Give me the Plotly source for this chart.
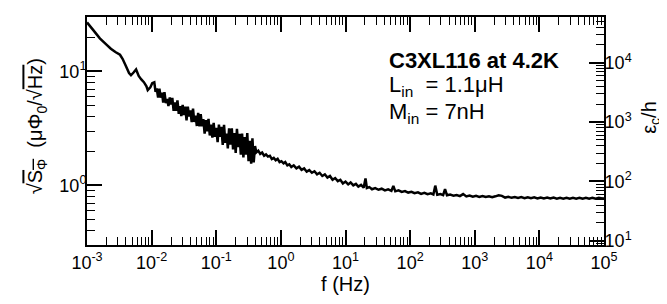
import math
import plotly.graph_objects as go

# ---- data (f in Hz, sqrt(S_phi) in micro-Phi0/sqrt(Hz)) ----
f_low = [0.00100, 0.00126, 0.00158, 0.00200, 0.00234, 0.00275, 0.00324, 0.00355, 0.00398, 0.00447,
         0.00479, 0.00525, 0.00575, 0.00631, 0.00692, 0.00759, 0.00832, 0.00871, 0.00955, 0.0102]
s_low = [26.9, 22.9, 19.5, 17.2, 15.8, 14.8, 14.0, 12.9, 11.2, 9.66,
         9.25, 9.77, 10.4, 9.12, 8.51, 8.04, 7.41, 6.86, 7.24, 7.89]

f_mid = [0.0110, 0.0115, 0.0120, 0.0126, 0.0132, 0.0138, 0.0145, 0.0151, 0.0158, 0.0166,
         0.0174, 0.0182, 0.0191, 0.0200, 0.0209, 0.0219, 0.0229, 0.0240, 0.0251, 0.0263,
         0.0275, 0.0288, 0.0302, 0.0316, 0.0331, 0.0347, 0.0363, 0.0380, 0.0398, 0.0417,
         0.0437, 0.0457, 0.0479, 0.0501, 0.0525, 0.0550, 0.0575, 0.0603, 0.0631, 0.0661,
         0.0692, 0.0724, 0.0759, 0.0794, 0.0832, 0.0871, 0.0912, 0.0955, 0.100, 0.105,
         0.110, 0.115, 0.120, 0.126, 0.132, 0.138, 0.145, 0.151, 0.158, 0.166,
         0.174, 0.182, 0.191, 0.200, 0.209, 0.219, 0.229, 0.240, 0.251, 0.263,
         0.275, 0.288, 0.302, 0.316, 0.331, 0.347, 0.363, 0.380, 0.398]
s_mid = [8.02, 6.62, 7.08, 5.90, 7.06, 5.89, 6.50, 5.33, 6.58, 5.27,
         5.74, 4.97, 5.92, 5.11, 5.85, 4.50, 5.35, 4.51, 5.58, 4.24,
         4.95, 4.05, 5.09, 4.14, 4.90, 3.72, 4.90, 4.02, 4.54, 3.59,
         4.72, 3.60, 4.09, 3.32, 4.33, 3.29, 4.21, 3.30, 3.82, 2.85,
         3.73, 2.98, 3.83, 2.74, 3.41, 2.62, 3.54, 2.67, 3.19, 2.40,
         3.42, 2.67, 3.26, 2.26, 3.39, 2.36, 2.84, 2.11, 3.16, 2.28,
         3.16, 2.07, 2.87, 1.93, 3.14, 2.16, 2.84, 1.86, 2.85, 1.76,
         2.65, 1.86, 2.88, 1.63, 2.46, 1.55, 2.59, 1.59, 2.21]

f_high = [0.417, 0.447, 0.479, 0.513, 0.550, 0.589, 0.631, 0.676, 0.724, 0.776,
          0.832, 0.891, 0.955, 1.02, 1.10, 1.17, 1.26, 1.35, 1.45, 1.58,
          1.74, 1.91, 2.09, 2.29, 2.51, 2.75, 3.02, 3.31, 3.63, 3.98,
          4.37, 4.79, 5.25, 5.75, 6.31, 6.92, 7.59, 8.32, 9.12, 10.0,
          11.0, 12.0, 13.2, 14.5, 15.8, 17.4, 19.1, 20.4, 21.4, 23.4,
          25.7, 28.8, 32.4, 36.3, 40.7, 45.7, 51.3, 55.0, 58.9, 66.1,
          74.1, 83.2, 93.3, 105, 117, 132, 148, 166, 186, 209,
          229, 245, 263, 295, 324, 347, 372, 417, 468, 525,
          589, 661, 741, 832, 933, 1047, 1175, 1318, 1479, 1660,
          1862, 2089, 2344, 2630, 2951, 3311, 3715, 4169, 4677, 5248,
          5888, 6607, 7413, 8318, 9333, 10471, 11749, 13183, 14791, 16596,
          18621, 20893, 23442, 26303, 29512, 33113, 37154, 41687, 46774, 52481,
          58884, 66069, 74131, 83176, 93325, 100000]
s_high = [1.95, 2.02, 1.89, 1.94, 1.82, 1.87, 1.79, 1.82, 1.70, 1.74,
          1.66, 1.71, 1.60, 1.63, 1.56, 1.60, 1.50, 1.53, 1.45, 1.50,
          1.41, 1.46, 1.37, 1.41, 1.32, 1.36, 1.29, 1.33, 1.25, 1.29,
          1.21, 1.25, 1.17, 1.21, 1.12, 1.16, 1.09, 1.12, 1.04, 1.08,
          1.02, 1.06, 1.00, 1.03, 0.977, 1.01, 0.955, 1.15, 0.948, 0.966,
          0.925, 0.948, 0.916, 0.935, 0.904, 0.923, 0.895, 0.989, 0.887, 0.904,
          0.877, 0.891, 0.865, 0.879, 0.855, 0.869, 0.843, 0.859, 0.836, 0.851,
          0.832, 0.995, 0.828, 0.839, 0.822, 0.929, 0.818, 0.830, 0.813, 0.824,
          0.805, 0.839, 0.800, 0.813, 0.796, 0.809, 0.793, 0.807, 0.791, 0.804,
          0.787, 0.802, 0.820, 0.809, 0.782, 0.794, 0.778, 0.791, 0.776, 0.789,
          0.773, 0.787, 0.771, 0.785, 0.769, 0.783, 0.767, 0.782, 0.767, 0.782,
          0.766, 0.780, 0.766, 0.780, 0.766, 0.780, 0.766, 0.780, 0.764, 0.778,
          0.764, 0.778, 0.764, 0.778, 0.766, 0.773]

# axis ranges and tick exponents
x_range_hz = [1e-3, 1e5]
x_exponents = [-3, -2, -1, 0, 1, 2, 3, 4, 5]
left_range = [0.3, 30]          # sqrt(S_phi)
left_exponents = [0, 1]
right_range = [8.5, 59000]      # eps_c / h
right_exponents = [1, 2, 3, 4]

title_text = "<b>C3XL116 at 4.2K</b>"
lin_text = "L<sub>in</sub>\u00a0\u00a0= 1.1\u03bcH"
min_text = "M<sub>in</sub> = 7nH"
x_title = "f (Hz)"
left_title = ("\u221a<span style='text-decoration:overline'>S<sub>\u03a6</sub></span>"
              "\u00a0\u00a0(\u03bc\u03a6<sub>0</sub>/\u221a"
              "<span style='text-decoration:overline'>Hz</span>)")
right_title = "\u03b5<sub>c</sub>/h"

freq = f_low + f_mid + f_high
noise = s_low + s_mid + s_high

FONT = "Liberation Sans, Arial, Helvetica, sans-serif"


def pow_ticks(exps):
    return [10.0 ** e for e in exps], ["10<sup>%d</sup>" % e for e in exps]


def minor_vals(lo, hi):
    out = []
    e = math.floor(math.log10(lo)) - 1
    while 10.0 ** e <= hi:
        for k in range(2, 10):
            v = k * 10.0 ** e
            if lo <= v <= hi:
                out.append(v)
        e += 1
    return out


def axis_style(exps, rng):
    tv, tt = pow_ticks(exps)
    return dict(type="log", tickmode="array", tickvals=tv, ticktext=tt,
                range=[math.log10(rng[0]), math.log10(rng[1])],
                ticks="inside", ticklen=15, tickwidth=1.6, tickcolor="black",
                showline=True, linewidth=2, linecolor="black",
                showgrid=False, zeroline=False,
                tickfont=dict(family=FONT, size=18, color="black"),
                minor=dict(tickmode="array", tickvals=minor_vals(rng[0], rng[1]),
                           ticks="inside", ticklen=8, tickwidth=1.2,
                           tickcolor="black", showgrid=False))


fig = go.Figure()
fig.add_trace(go.Scatter(x=freq, y=noise, mode="lines",
                         line=dict(color="black", width=2.5, simplify=False),
                         showlegend=False, hoverinfo="skip"))
fig.add_trace(go.Scatter(x=[], y=[], yaxis="y2", mode="lines", showlegend=False))

fig.update_layout(
    width=667, height=304,
    margin=dict(l=79, r=71, t=7, b=67),
    paper_bgcolor="white", plot_bgcolor="white",
    font=dict(family=FONT, color="black"),
    xaxis=dict(axis_style(x_exponents, x_range_hz), mirror="ticks", ticklabelstandoff=0,
               title=dict(text=x_title, font=dict(family=FONT, size=20), standoff=4)),
    yaxis=dict(axis_style(left_exponents, left_range), mirror=False, ticklabelstandoff=-5),
    yaxis2=dict(axis_style(right_exponents, right_range), overlaying="y", side="right",
                ticklabelstandoff=-5),
    annotations=[
        dict(text=title_text, xref="paper", yref="paper", x=0.580, y=0.809,
             xanchor="left", yanchor="middle", showarrow=False,
             font=dict(family=FONT, size=22, color="black")),
        dict(text=lin_text, xref="paper", yref="paper", x=0.580, y=0.696,
             xanchor="left", yanchor="middle", showarrow=False,
             font=dict(family=FONT, size=22, color="black")),
        dict(text=min_text, xref="paper", yref="paper", x=0.580, y=0.578,
             xanchor="left", yanchor="middle", showarrow=False,
             font=dict(family=FONT, size=22, color="black")),
        dict(text=left_title, xref="paper", yref="paper", x=-0.097, y=0.52, textangle=-90,
             xanchor="center", yanchor="middle", showarrow=False,
             font=dict(family=FONT, size=20, color="black")),
        dict(text=right_title, xref="paper", yref="paper", x=1.090, y=0.56,
             textangle=-90, xanchor="center", yanchor="middle", showarrow=False,
             font=dict(family=FONT, size=20, color="black")),
    ],
)

fig.write_html("out.html")
